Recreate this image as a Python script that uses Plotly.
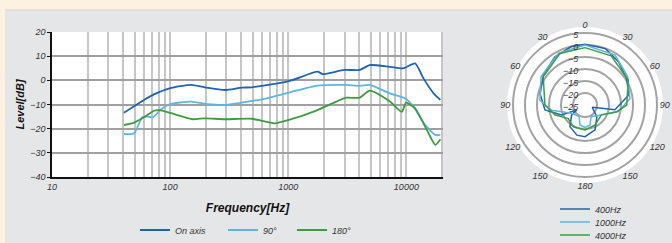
import plotly.graph_objects as go

# ---------------- Frequency response data ----------------
freq_on = [40.6, 60, 73, 99, 151, 196, 291, 405, 492, 1014, 1770, 1954, 2993, 4020, 4893, 7250, 9420, 11850, 13960, 17000, 19400]
lvl_on = [-13.4, -8.1, -5.8, -3.3, -1.9, -2.9, -4.0, -3.0, -2.9, -0.3, 3.6, 2.6, 4.3, 4.3, 6.3, 5.6, 5.0, 7.0, 0.8, -5.4, -8.1]

freq_90 = [40.6, 49.6, 58, 64, 71, 84, 99, 151, 210, 291, 405, 600, 1014, 1770, 3090, 4020, 4893, 7250, 9730, 11500, 14450, 17600, 19400]
lvl_90 = [-22.2, -21.9, -15.3, -15.0, -15.3, -12.0, -9.9, -8.8, -9.9, -10.2, -9.2, -7.9, -5.1, -2.2, -1.9, -2.3, -1.9, -5.4, -7.4, -10.9, -18.5, -22.6, -22.6]

freq_180 = [40.6, 49.6, 60, 73, 81, 102, 156, 196, 291, 492, 767, 1014, 1770, 2375, 3090, 4020, 4893, 7250, 9140, 9930, 11850, 14900, 17600, 19400]
lvl_180 = [-18.5, -17.5, -15.3, -12.6, -12.3, -13.6, -16.1, -15.7, -16.1, -15.9, -17.8, -16.4, -12.3, -9.5, -7.2, -7.2, -4.3, -8.8, -13.0, -9.2, -11.6, -20.5, -26.7, -24.4]

x_tickvals = [10, 20, 30, 40, 50, 60, 70, 80, 90,
              100, 200, 300, 400, 500, 600, 700, 800, 900,
              1000, 2000, 3000, 4000, 5000, 6000, 7000, 8000, 9000,
              10000, 20000]
x_ticktext = ["10"] + [""] * 8 + ["100"] + [""] * 8 + ["1000"] + [""] * 8 + ["10000", ""]
y_tickvals = [-40, -30, -20, -10, 0, 10, 20]

# ---------------- Polar data ----------------
theta_400 = [0, 20, 38, 57, 77, 99, 101, 108, 135, 158, 180, 195, 215, 233, 239, 247, 263, 284, 306, 328, 347, 360]
r_400 = [0.3, 0.0, -2.2, -4.4, -6.2, -12.4, -17.9, -21.8, -18.0, -13.8, -11.8, -12.0, -14.0, -18.0, -21.0, -14.4, -8.2, -5.7, -3.6, -1.3, 0.0, 0.3]

theta_1000 = [0, 31, 56, 82, 101, 121, 153, 166, 180, 194, 207, 238, 261, 276, 303, 333, 360]
r_1000 = [0.0, -0.7, -3.6, -6.1, -10.8, -17.0, -19.5, -16.4, -15.7, -16.4, -19.6, -18.5, -11.0, -6.1, -3.2, -0.8, 0.0]

theta_4000 = [0, 28, 60, 90, 102, 121, 153, 180, 208, 231, 252, 270, 304, 334, 360]
r_4000 = [-1.1, -1.8, -4.2, -7.6, -11.5, -17.0, -15.7, -14.6, -14.7, -16.0, -11.8, -8.3, -4.0, -1.1, -1.1]

ang_tickvals = [0, 30, 60, 90, 120, 150, 180, 210, 240, 270, 300, 330]
ang_ticktext = ["0", "30", "60", "90", "120", "150", "180", "150", "120", "90", "60", "30"]
rad_tickvals = [-25, -20, -15, -10, -5, 0, 5]

C_DARK = "#2063b0"
C_LIGHT = "#5cb6df"
C_GREEN = "#3e9b43"

W, H = 672, 243
FONT = "Liberation Sans, Arial, sans-serif"

fig = go.Figure()

main_series = [("On axis", freq_on, lvl_on, C_DARK, "legend"),
               ("90°", freq_90, lvl_90, C_LIGHT, "legend2"),
               ("180°", freq_180, lvl_180, C_GREEN, "legend3")]
for name, xs, ys, col, lg in main_series:
    fig.add_trace(go.Scatter(x=xs, y=ys, name=name, mode="lines", legend=lg,
                             line=dict(color=col, width=1.8, shape="spline", smoothing=0.6)))

polar_series = [("400Hz", theta_400, r_400, C_DARK, "legend4"),
                ("1000Hz", theta_1000, r_1000, C_LIGHT, "legend5"),
                ("4000Hz", theta_4000, r_4000, C_GREEN, "legend6")]
for name, th, rr, col, lg in polar_series:
    fig.add_trace(go.Scatterpolar(r=rr, theta=th, name=name, mode="lines", legend=lg,
                                  line=dict(color=col, width=1.5)))

tickfont = dict(family=FONT, size=9, color="#333333", style="italic")
legfont = dict(family=FONT, size=9, color="#333333", style="italic")


def leg(px, py):
    return dict(orientation="h", x=px / W, y=1 - py / H, xanchor="left", yanchor="middle",
                bgcolor="rgba(0,0,0,0)", font=legfont, itemwidth=30, borderwidth=0)


fig.update_layout(
    width=W, height=H,
    margin=dict(l=0, r=0, t=0, b=0, autoexpand=False),
    paper_bgcolor="#e5e6e8",
    plot_bgcolor="#ffffff",
    font=dict(family=FONT, size=9, color="#333333"),
    xaxis=dict(
        type="log", range=[1, 4.31], domain=[52 / W, 443 / W],
        tickvals=x_tickvals, ticktext=x_ticktext, tickfont=tickfont,
        showgrid=True, gridcolor="#c6c6c6", gridwidth=2,
        showline=True, linecolor="#111111", linewidth=1.5,
        ticks="", zeroline=False,
        title=dict(text="Frequency[Hz]", standoff=13,
                   font=dict(family=FONT, size=12, color="#111111", weight="bold", style="italic")),
    ),
    yaxis=dict(
        range=[-40, 20], domain=[1 - 177 / H, 1 - 32 / H],
        tickvals=y_tickvals, tickfont=tickfont,
        showgrid=True, gridcolor="#a0a0a0", gridwidth=2,
        showline=True, linecolor="#111111", linewidth=1.5,
        ticks="outside", ticklen=3, tickcolor="#111111", zeroline=False,
        title=dict(text="Level[dB]", standoff=3,
                   font=dict(family=FONT, size=11, color="#111111", weight="bold", style="italic")),
    ),
    polar=dict(
        domain=dict(x=[513 / W, 657 / W], y=[1 - 177 / H, 1 - 33 / H]),
        bgcolor="#ffffff",
        radialaxis=dict(range=[-25, 5], tickvals=rad_tickvals, angle=90, side="counterclockwise",
                        showline=False, ticks="", tickfont=tickfont,
                        showgrid=True, gridcolor="#a3a3a3", gridwidth=2),
        angularaxis=dict(rotation=90, direction="clockwise", tickvals=ang_tickvals, ticktext=ang_ticktext,
                         tickfont=tickfont, showgrid=False, ticks="",
                         showline=True, linecolor="#a3a3a3", linewidth=2),
    ),
    legend=leg(135, 230),
    legend2=leg(223, 230),
    legend3=leg(292, 230),
    legend4=leg(555, 209),
    legend5=leg(555, 222),
    legend6=leg(555, 235),
    showlegend=True,
    shapes=[
        dict(type="rect", xref="paper", yref="paper", x0=0, x1=1, y0=1 - 10 / H, y1=1,
             fillcolor="#fdf2e2", line=dict(width=0), layer="below"),
        dict(type="rect", xref="paper", yref="paper", x0=0, x1=5 / W, y0=0, y1=1,
             fillcolor="#fdf2e2", line=dict(width=0), layer="below"),
        dict(type="line", xref="paper", yref="paper", x0=5 / W, x1=1, y0=1 - 10 / H, y1=1 - 10 / H,
             line=dict(color="#d4d4d4", width=1), layer="below"),
        dict(type="circle", xref="paper", yref="paper", x0=507 / W, x1=663 / W, y0=1 - 183 / H, y1=1 - 27 / H,
             fillcolor="#ffffff", line=dict(width=0), layer="below"),
    ],
)

fig.write_html("out.html", config={"displayModeBar": False},
               post_script="document.body.style.margin='0';document.body.style.padding='0';")
